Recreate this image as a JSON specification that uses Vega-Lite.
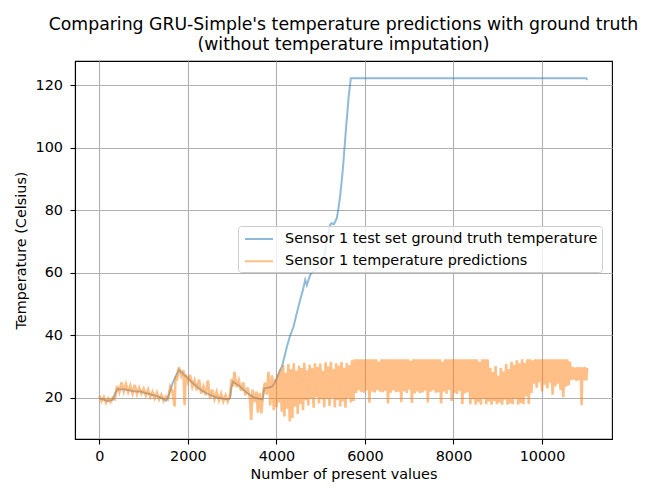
{
  "$schema": "https://vega.github.io/schema/vega-lite/v6.json",
  "width": 537,
  "height": 378,
  "autosize": {"type": "none"},
  "padding": {"left": 75, "top": 61, "right": 54, "bottom": 58},
  "background": "white",
  "title": {
    "text": ["Comparing GRU-Simple's temperature predictions with ground truth", "(without temperature imputation)"],
    "font": "DejaVu Sans", "fontSize": 17.3, "fontWeight": "normal", "color": "black",
    "anchor": "middle", "frame": "group", "offset": 8, "lineHeight": 20
  },
  "config": {
    "view": {"stroke": "black", "strokeWidth": 1.1},
    "axis": {
      "labelFont": "DejaVu Sans", "labelFontSize": 14.4, "labelColor": "black",
      "titleFont": "DejaVu Sans", "titleFontSize": 14.4, "titleColor": "black", "titleFontWeight": "normal",
      "domainColor": "black", "domainWidth": 1.1,
      "tickColor": "black", "tickWidth": 1.1, "tickSize": 5,
      "grid": true, "gridColor": "#b0b0b0", "gridWidth": 1.1
    }
  },
  "datasets": {
    "truth": [
      {"x": 0, "y": 19.8}, {"x": 100, "y": 19.4}, {"x": 170, "y": 19.0}, {"x": 300, "y": 19.3},
      {"x": 360, "y": 21.5}, {"x": 406, "y": 22.7}, {"x": 550, "y": 22.7}, {"x": 700, "y": 22.3},
      {"x": 775, "y": 22.1}, {"x": 925, "y": 22.0}, {"x": 1000, "y": 21.7}, {"x": 1150, "y": 21.1},
      {"x": 1377, "y": 20.1}, {"x": 1512, "y": 19.1}, {"x": 1560, "y": 20.5}, {"x": 1650, "y": 24.5},
      {"x": 1790, "y": 28.9}, {"x": 1850, "y": 28.2}, {"x": 1979, "y": 26.5}, {"x": 2100, "y": 24.8},
      {"x": 2205, "y": 23.5}, {"x": 2300, "y": 22.4}, {"x": 2430, "y": 21.4}, {"x": 2550, "y": 20.6},
      {"x": 2656, "y": 20.1}, {"x": 2800, "y": 19.7}, {"x": 2900, "y": 19.5}, {"x": 2950, "y": 19.8},
      {"x": 2985, "y": 23.5}, {"x": 3017, "y": 25.1}, {"x": 3100, "y": 24.4}, {"x": 3183, "y": 23.5},
      {"x": 3260, "y": 22.5}, {"x": 3333, "y": 21.6}, {"x": 3483, "y": 20.1}, {"x": 3600, "y": 19.7},
      {"x": 3680, "y": 19.5}, {"x": 3700, "y": 20.5}, {"x": 3724, "y": 23.0}, {"x": 3800, "y": 23.2},
      {"x": 3898, "y": 23.5}, {"x": 3960, "y": 24.8}, {"x": 4010, "y": 26.2}, {"x": 4070, "y": 28.5},
      {"x": 4123, "y": 29.9}, {"x": 4180, "y": 33.0}, {"x": 4236, "y": 36.3}, {"x": 4300, "y": 39.5},
      {"x": 4386, "y": 42.7}, {"x": 4450, "y": 46.5}, {"x": 4537, "y": 51.3}, {"x": 4600, "y": 54.5},
      {"x": 4650, "y": 57.7}, {"x": 4687, "y": 56.0}, {"x": 4720, "y": 57.5}, {"x": 4763, "y": 59.3},
      {"x": 4850, "y": 60.8}, {"x": 4988, "y": 61.9}, {"x": 5050, "y": 63.5}, {"x": 5100, "y": 66.5},
      {"x": 5150, "y": 71.0}, {"x": 5213, "y": 75.3}, {"x": 5250, "y": 75.8}, {"x": 5300, "y": 75.5},
      {"x": 5365, "y": 77.5}, {"x": 5400, "y": 80.5}, {"x": 5439, "y": 84.5}, {"x": 5500, "y": 93.0},
      {"x": 5575, "y": 106.7}, {"x": 5630, "y": 116.0}, {"x": 5680, "y": 122.2}, {"x": 11000, "y": 122.2},
      {"x": 11020, "y": 121.6}
    ],
    "pred": [
      {"x": 0, "y": 20.6}, {"x": 50, "y": 18.9}, {"x": 100, "y": 20.2}, {"x": 150, "y": 18.4},
      {"x": 200, "y": 19.8}, {"x": 250, "y": 18.6}, {"x": 300, "y": 20.0}, {"x": 350, "y": 19.5},
      {"x": 400, "y": 23.8}, {"x": 450, "y": 21.8}, {"x": 500, "y": 24.9}, {"x": 550, "y": 22.0},
      {"x": 600, "y": 24.4}, {"x": 650, "y": 21.8}, {"x": 700, "y": 23.9}, {"x": 750, "y": 21.4},
      {"x": 800, "y": 24.1}, {"x": 850, "y": 21.2}, {"x": 900, "y": 23.2}, {"x": 950, "y": 21.3},
      {"x": 1000, "y": 22.9}, {"x": 1050, "y": 20.7}, {"x": 1100, "y": 22.6}, {"x": 1150, "y": 20.3},
      {"x": 1200, "y": 21.9}, {"x": 1250, "y": 19.8}, {"x": 1300, "y": 21.7}, {"x": 1350, "y": 19.5},
      {"x": 1400, "y": 21.0}, {"x": 1450, "y": 19.0}, {"x": 1500, "y": 20.4}, {"x": 1550, "y": 19.6},
      {"x": 1600, "y": 23.5}, {"x": 1650, "y": 22.0}, {"x": 1700, "y": 17.2}, {"x": 1720, "y": 26.8},
      {"x": 1750, "y": 25.4}, {"x": 1800, "y": 29.8}, {"x": 1850, "y": 27.0}, {"x": 1900, "y": 28.8},
      {"x": 1925, "y": 17.6}, {"x": 1950, "y": 27.4}, {"x": 2000, "y": 25.0}, {"x": 2050, "y": 27.3},
      {"x": 2100, "y": 23.5}, {"x": 2150, "y": 25.6}, {"x": 2200, "y": 22.4}, {"x": 2250, "y": 25.8},
      {"x": 2300, "y": 21.3}, {"x": 2350, "y": 23.6}, {"x": 2400, "y": 20.8}, {"x": 2450, "y": 25.5},
      {"x": 2500, "y": 19.8}, {"x": 2550, "y": 22.6}, {"x": 2600, "y": 19.6}, {"x": 2650, "y": 21.9},
      {"x": 2700, "y": 19.2}, {"x": 2750, "y": 21.3}, {"x": 2800, "y": 18.9}, {"x": 2850, "y": 20.8},
      {"x": 2900, "y": 18.8}, {"x": 2950, "y": 20.5}, {"x": 2990, "y": 26.0}, {"x": 3020, "y": 23.6},
      {"x": 3050, "y": 28.3}, {"x": 3100, "y": 23.4}, {"x": 3150, "y": 25.6}, {"x": 3200, "y": 22.2},
      {"x": 3250, "y": 24.9}, {"x": 3300, "y": 20.8}, {"x": 3350, "y": 23.3}, {"x": 3400, "y": 20.0},
      {"x": 3430, "y": 12.9}, {"x": 3460, "y": 22.6}, {"x": 3500, "y": 18.6}, {"x": 3550, "y": 22.0},
      {"x": 3580, "y": 15.2}, {"x": 3620, "y": 21.5}, {"x": 3660, "y": 15.0}, {"x": 3700, "y": 21.8},
      {"x": 3740, "y": 24.8}, {"x": 3780, "y": 21.0}, {"x": 3820, "y": 28.3}, {"x": 3860, "y": 17.5},
      {"x": 3900, "y": 27.2}, {"x": 3940, "y": 16.0}, {"x": 3970, "y": 26.0},
      {"x": 4000, "y": 17.0}, {"x": 4030, "y": 27.5}, {"x": 4060, "y": 18.5}, {"x": 4090, "y": 29.0},
      {"x": 4120, "y": 15.5}, {"x": 4150, "y": 30.5}, {"x": 4180, "y": 14.0}, {"x": 4210, "y": 28.0},
      {"x": 4240, "y": 16.5}, {"x": 4270, "y": 30.8}, {"x": 4300, "y": 12.5}, {"x": 4330, "y": 29.2},
      {"x": 4360, "y": 13.5}, {"x": 4390, "y": 31.0}, {"x": 4420, "y": 17.2}, {"x": 4450, "y": 28.6},
      {"x": 4480, "y": 14.8}, {"x": 4510, "y": 30.2}, {"x": 4540, "y": 18.0}, {"x": 4570, "y": 29.5},
      {"x": 4600, "y": 16.0}, {"x": 4630, "y": 31.2}, {"x": 4660, "y": 19.2}, {"x": 4690, "y": 28.8},
      {"x": 4720, "y": 17.5}, {"x": 4750, "y": 30.6}, {"x": 4780, "y": 19.8}, {"x": 4810, "y": 29.4},
      {"x": 4840, "y": 16.8}, {"x": 4870, "y": 31.0}, {"x": 4900, "y": 20.2}, {"x": 4930, "y": 29.8},
      {"x": 4960, "y": 18.2}, {"x": 4990, "y": 30.9}, {"x": 5020, "y": 19.5}, {"x": 5050, "y": 28.5},
      {"x": 5080, "y": 17.0}, {"x": 5110, "y": 31.3}, {"x": 5140, "y": 19.6}, {"x": 5170, "y": 30.0},
      {"x": 5200, "y": 17.4}, {"x": 5230, "y": 31.5}, {"x": 5260, "y": 20.0}, {"x": 5290, "y": 29.2},
      {"x": 5320, "y": 16.9}, {"x": 5350, "y": 31.0}, {"x": 5380, "y": 19.3}, {"x": 5410, "y": 30.2},
      {"x": 5440, "y": 17.2}, {"x": 5470, "y": 31.4}, {"x": 5500, "y": 18.8}, {"x": 5530, "y": 29.6},
      {"x": 5560, "y": 16.8}, {"x": 5590, "y": 31.1}, {"x": 5620, "y": 19.9}, {"x": 5650, "y": 30.4},
      {"x": 5680, "y": 18.5}, {"x": 5710, "y": 32.0},
      {"x": 5740, "y": 19.0}, {"x": 5770, "y": 32.3}, {"x": 5800, "y": 21.5}, {"x": 5830, "y": 32.3},
      {"x": 5860, "y": 22.4}, {"x": 5890, "y": 32.3}, {"x": 5920, "y": 21.8}, {"x": 5950, "y": 32.3},
      {"x": 5980, "y": 21.6}, {"x": 6010, "y": 32.3}, {"x": 6040, "y": 22.3}, {"x": 6070, "y": 32.3},
      {"x": 6100, "y": 18.4}, {"x": 6130, "y": 32.3}, {"x": 6160, "y": 22.0}, {"x": 6190, "y": 32.3},
      {"x": 6220, "y": 21.7}, {"x": 6250, "y": 32.3}, {"x": 6280, "y": 22.5}, {"x": 6310, "y": 31.6},
      {"x": 6340, "y": 21.9}, {"x": 6370, "y": 32.3}, {"x": 6400, "y": 21.8}, {"x": 6430, "y": 32.3},
      {"x": 6460, "y": 22.2}, {"x": 6490, "y": 32.3}, {"x": 6520, "y": 18.2}, {"x": 6550, "y": 32.3},
      {"x": 6580, "y": 21.6}, {"x": 6610, "y": 32.3}, {"x": 6640, "y": 22.4}, {"x": 6670, "y": 32.3},
      {"x": 6700, "y": 21.8}, {"x": 6730, "y": 32.3}, {"x": 6760, "y": 21.9}, {"x": 6790, "y": 32.3},
      {"x": 6820, "y": 18.6}, {"x": 6850, "y": 32.3}, {"x": 6880, "y": 22.1}, {"x": 6910, "y": 32.3},
      {"x": 6940, "y": 21.5}, {"x": 6970, "y": 32.3}, {"x": 7000, "y": 22.6}, {"x": 7030, "y": 31.8},
      {"x": 7060, "y": 18.3}, {"x": 7090, "y": 32.3}, {"x": 7120, "y": 21.4}, {"x": 7150, "y": 32.3},
      {"x": 7180, "y": 22.0}, {"x": 7210, "y": 32.3}, {"x": 7240, "y": 21.5}, {"x": 7270, "y": 32.3},
      {"x": 7300, "y": 21.7}, {"x": 7330, "y": 32.3}, {"x": 7360, "y": 22.3}, {"x": 7390, "y": 32.3},
      {"x": 7420, "y": 18.5}, {"x": 7450, "y": 32.3}, {"x": 7480, "y": 21.9}, {"x": 7510, "y": 32.3},
      {"x": 7540, "y": 22.4}, {"x": 7570, "y": 32.3}, {"x": 7600, "y": 21.6}, {"x": 7630, "y": 32.3},
      {"x": 7660, "y": 21.8}, {"x": 7690, "y": 32.3}, {"x": 7720, "y": 18.2}, {"x": 7750, "y": 31.5},
      {"x": 7780, "y": 22.0}, {"x": 7810, "y": 32.3}, {"x": 7840, "y": 21.3}, {"x": 7870, "y": 32.3},
      {"x": 7900, "y": 22.5}, {"x": 7930, "y": 32.3}, {"x": 7960, "y": 19.0}, {"x": 7990, "y": 32.3},
      {"x": 8020, "y": 21.6}, {"x": 8050, "y": 32.3}, {"x": 8080, "y": 21.2}, {"x": 8110, "y": 32.3},
      {"x": 8140, "y": 22.2}, {"x": 8170, "y": 32.3}, {"x": 8200, "y": 18.0}, {"x": 8230, "y": 32.3},
      {"x": 8260, "y": 21.4}, {"x": 8290, "y": 32.3}, {"x": 8320, "y": 21.8}, {"x": 8350, "y": 32.3},
      {"x": 8380, "y": 17.9}, {"x": 8410, "y": 32.3}, {"x": 8440, "y": 19.5}, {"x": 8470, "y": 32.3},
      {"x": 8500, "y": 17.8}, {"x": 8530, "y": 32.3}, {"x": 8560, "y": 18.6}, {"x": 8590, "y": 31.5},
      {"x": 8620, "y": 17.8}, {"x": 8650, "y": 32.3}, {"x": 8680, "y": 19.8}, {"x": 8710, "y": 32.3},
      {"x": 8740, "y": 17.9}, {"x": 8770, "y": 32.3}, {"x": 8800, "y": 18.8}, {"x": 8830, "y": 29.6},
      {"x": 8860, "y": 17.8}, {"x": 8890, "y": 28.2}, {"x": 8920, "y": 19.0}, {"x": 8950, "y": 30.1},
      {"x": 8980, "y": 17.9}, {"x": 9010, "y": 27.0}, {"x": 9040, "y": 18.5}, {"x": 9070, "y": 29.5},
      {"x": 9100, "y": 17.8}, {"x": 9130, "y": 28.4}, {"x": 9160, "y": 19.4}, {"x": 9190, "y": 30.8},
      {"x": 9220, "y": 17.8}, {"x": 9250, "y": 29.2}, {"x": 9280, "y": 18.2}, {"x": 9310, "y": 31.5},
      {"x": 9340, "y": 17.9}, {"x": 9370, "y": 30.5}, {"x": 9400, "y": 19.6}, {"x": 9430, "y": 32.0},
      {"x": 9460, "y": 17.8}, {"x": 9490, "y": 31.0}, {"x": 9520, "y": 18.3}, {"x": 9550, "y": 32.3},
      {"x": 9580, "y": 17.9}, {"x": 9610, "y": 31.2}, {"x": 9640, "y": 20.5}, {"x": 9670, "y": 32.3},
      {"x": 9700, "y": 18.0}, {"x": 9730, "y": 32.3}, {"x": 9760, "y": 21.5}, {"x": 9790, "y": 32.0},
      {"x": 9820, "y": 24.5}, {"x": 9850, "y": 32.3}, {"x": 9880, "y": 23.2}, {"x": 9910, "y": 32.3},
      {"x": 9940, "y": 25.0}, {"x": 9970, "y": 32.3}, {"x": 10000, "y": 22.0}, {"x": 10030, "y": 32.3},
      {"x": 10060, "y": 24.2}, {"x": 10090, "y": 32.3}, {"x": 10120, "y": 23.0}, {"x": 10150, "y": 32.3},
      {"x": 10180, "y": 24.8}, {"x": 10210, "y": 32.3}, {"x": 10240, "y": 21.0}, {"x": 10270, "y": 32.3},
      {"x": 10300, "y": 23.6}, {"x": 10330, "y": 32.3}, {"x": 10360, "y": 24.5}, {"x": 10390, "y": 32.3},
      {"x": 10420, "y": 22.4}, {"x": 10450, "y": 32.3}, {"x": 10480, "y": 20.2}, {"x": 10510, "y": 32.3},
      {"x": 10540, "y": 23.5}, {"x": 10570, "y": 32.3}, {"x": 10600, "y": 24.0}, {"x": 10630, "y": 31.6},
      {"x": 10660, "y": 25.6}, {"x": 10690, "y": 29.8}, {"x": 10720, "y": 25.8}, {"x": 10750, "y": 29.6},
      {"x": 10780, "y": 25.4}, {"x": 10810, "y": 29.8}, {"x": 10840, "y": 25.7}, {"x": 10870, "y": 29.7},
      {"x": 10880, "y": 25.6}, {"x": 10895, "y": 17.6}, {"x": 10910, "y": 29.7}, {"x": 10940, "y": 25.6},
      {"x": 10970, "y": 29.8}, {"x": 11000, "y": 25.5}, {"x": 11020, "y": 29.5}
    ]
  },
  "layer": [
    {
      "data": {"name": "truth"},
      "mark": {"type": "line", "strokeWidth": 2, "opacity": 0.5},
      "encoding": {
        "x": {
          "field": "x", "type": "quantitative",
          "scale": {"domain": [-551, 11581], "nice": false, "zero": false},
          "axis": {"title": "Number of present values", "values": [0, 2000, 4000, 6000, 8000, 10000], "format": "d", "labelPadding": 5, "titlePadding": 5}
        },
        "y": {
          "field": "y", "type": "quantitative",
          "scale": {"domain": [6.8, 127.7], "nice": false, "zero": false},
          "axis": {"title": "Temperature (Celsius)", "values": [20, 40, 60, 80, 100, 120], "format": "d", "labelPadding": 7.5, "titlePadding": 7}
        },
        "color": {
          "datum": "Sensor 1 test set ground truth temperature", "type": "nominal",
          "scale": {"domain": ["Sensor 1 test set ground truth temperature", "Sensor 1 temperature predictions"], "range": ["#1f77b4", "#ff7f0e"]},
          "legend": {
            "orient": "none", "legendX": 163, "legendY": 165, "title": null,
            "symbolType": "M-1.75,0H1.75", "symbolSize": 256, "symbolStrokeWidth": 2, "symbolOpacity": 0.5,
            "symbolOffset": 8, "symbolFillColor": "transparent",
            "labelFont": "DejaVu Sans", "labelFontSize": 14.4, "labelColor": "black", "labelOffset": 17, "labelLimit": 0,
            "fillColor": "rgba(255,255,255,0.8)", "strokeColor": "#cccccc", "cornerRadius": 3, "padding": 4, "rowPadding": 6.3
          }
        }
      }
    },
    {
      "data": {"name": "pred"},
      "mark": {"type": "line", "strokeWidth": 2.6, "opacity": 0.5},
      "encoding": {
        "x": {"field": "x", "type": "quantitative"},
        "y": {"field": "y", "type": "quantitative"},
        "color": {"datum": "Sensor 1 temperature predictions", "type": "nominal"}
      }
    }
  ]
}
